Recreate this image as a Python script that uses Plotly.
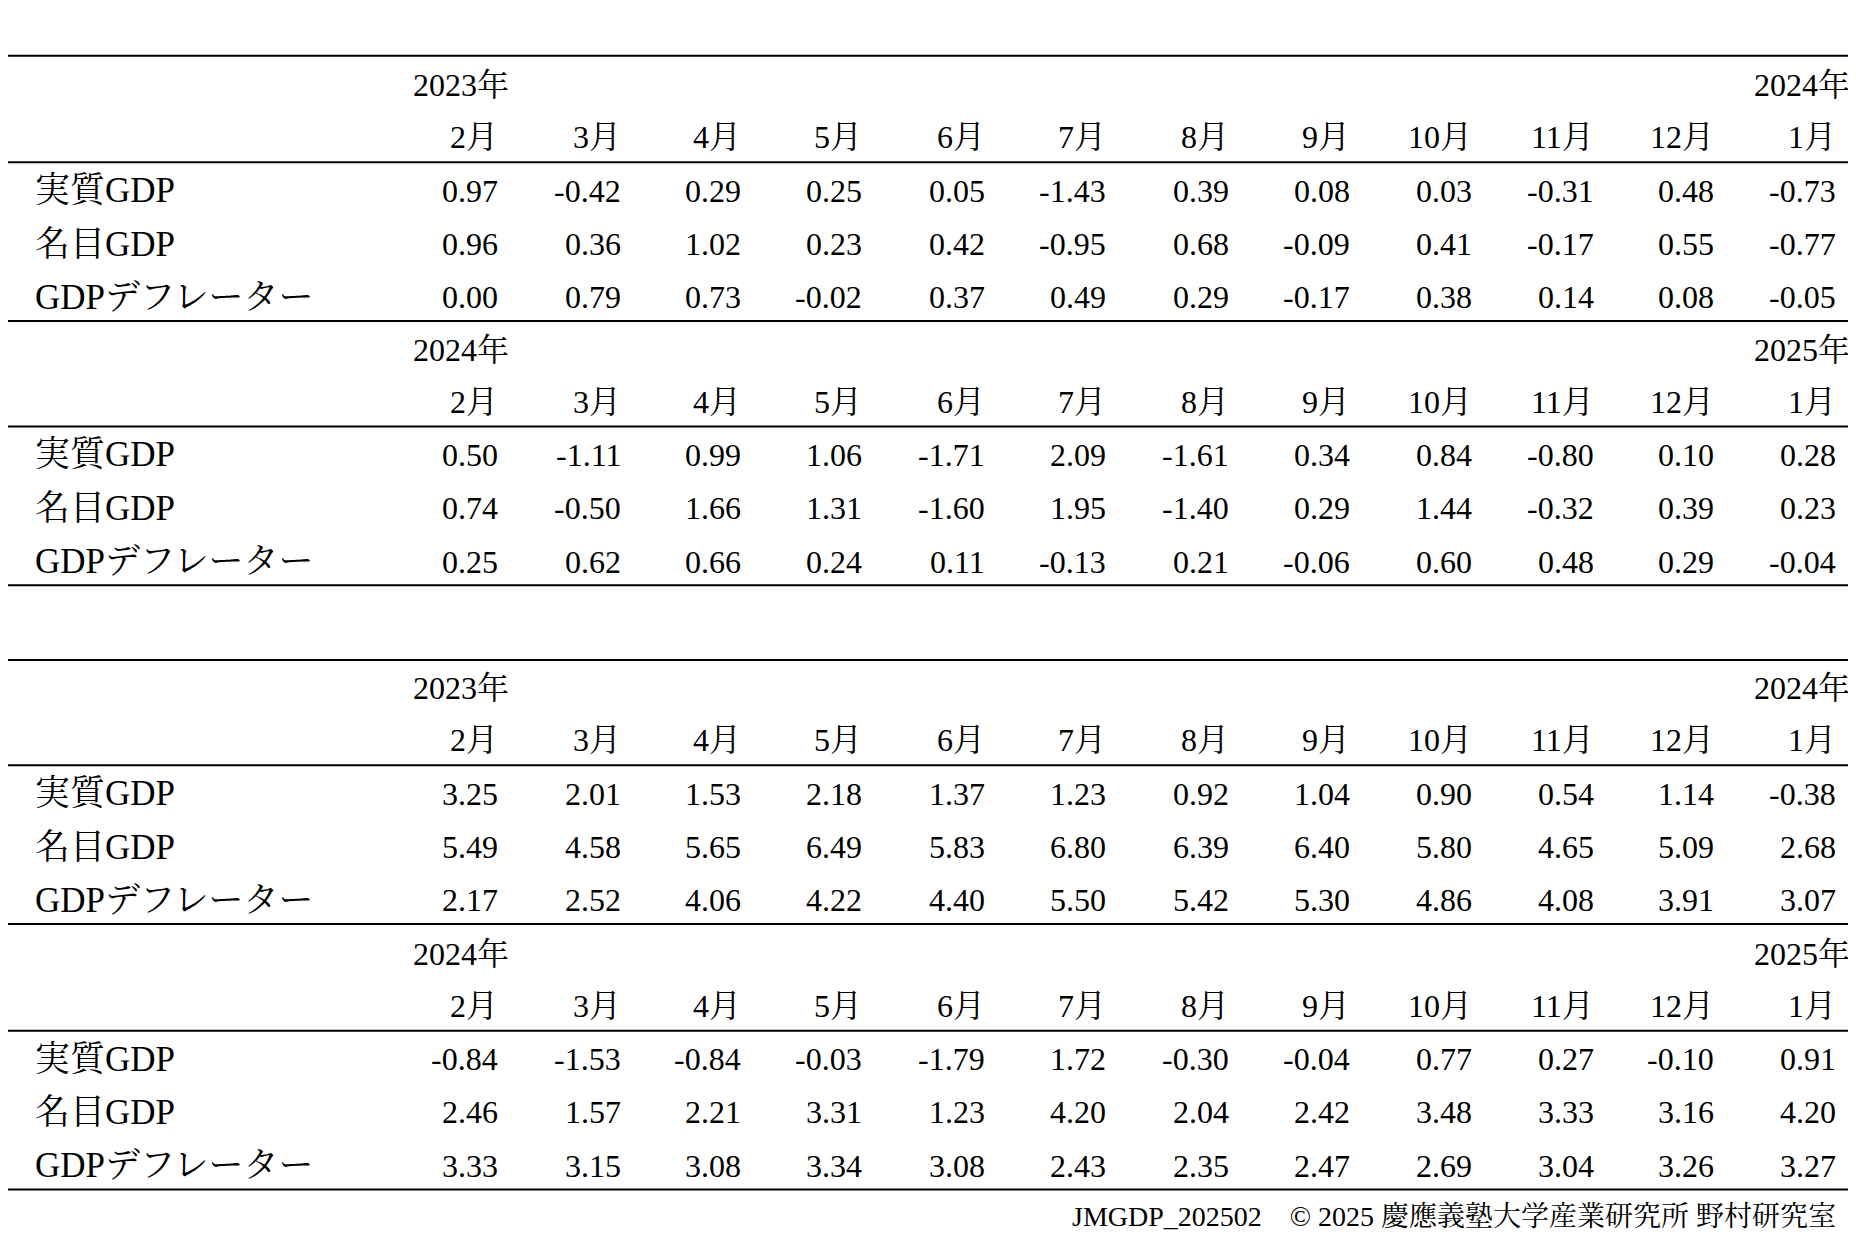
import plotly.graph_objects as go

months = ["2月","3月","4月","5月","6月","7月","8月","9月","10月","11月","12月","1月"]
row_labels = ["実質GDP","名目GDP","GDPデフレーター"]
sections = ["1.前月比","2.前年同月比"]
years_a = ["2023年","2024年"]
years_b = ["2024年","2025年"]

mom_a = [
 ["0.97","-0.42","0.29","0.25","0.05","-1.43","0.39","0.08","0.03","-0.31","0.48","-0.73"],
 ["0.96","0.36","1.02","0.23","0.42","-0.95","0.68","-0.09","0.41","-0.17","0.55","-0.77"],
 ["0.00","0.79","0.73","-0.02","0.37","0.49","0.29","-0.17","0.38","0.14","0.08","-0.05"]]
mom_b = [
 ["0.50","-1.11","0.99","1.06","-1.71","2.09","-1.61","0.34","0.84","-0.80","0.10","0.28"],
 ["0.74","-0.50","1.66","1.31","-1.60","1.95","-1.40","0.29","1.44","-0.32","0.39","0.23"],
 ["0.25","0.62","0.66","0.24","0.11","-0.13","0.21","-0.06","0.60","0.48","0.29","-0.04"]]
yoy_a = [
 ["3.25","2.01","1.53","2.18","1.37","1.23","0.92","1.04","0.90","0.54","1.14","-0.38"],
 ["5.49","4.58","5.65","6.49","5.83","6.80","6.39","6.40","5.80","4.65","5.09","2.68"],
 ["2.17","2.52","4.06","4.22","4.40","5.50","5.42","5.30","4.86","4.08","3.91","3.07"]]
yoy_b = [
 ["-0.84","-1.53","-0.84","-0.03","-1.79","1.72","-0.30","-0.04","0.77","0.27","-0.10","0.91"],
 ["2.46","1.57","2.21","3.31","1.23","4.20","2.04","2.42","3.48","3.33","3.16","4.20"],
 ["3.33","3.15","3.08","3.34","3.08","2.43","2.35","2.47","2.69","3.04","3.26","3.27"]]

FONT = "Liberation Serif, Noto Serif CJK JP, Noto Sans CJK JP, serif"
FS = 32
col_right = [422,526,628,730,834,936,1040,1142,1245,1348,1450,1553]

fig = go.Figure()
ann = []
shapes = []
def txt(x, y, s, anchor="right", size=FS):
    ann.append(dict(x=x, y=y, text=s, xref="x", yref="y", showarrow=False,
                    xanchor=anchor, yanchor="middle", font=dict(family=FONT, size=size, color="black")))
def hline(y, w=2):
    shapes.append(dict(type="line", x0=-10, x1=1580, y0=y, y1=y, xref="x", yref="y",
                       line=dict(color="black", width=w)))

def block(top, data, years):
    txt(432, top, years[0]); txt(1565, top, years[1])
    for m, xr in zip(months, col_right):
        txt(xr, top+44, m)
    hline(top+65)
    for i, (lab, row) in enumerate(zip(row_labels, data)):
        y = top+89+i*45
        txt(28, y, lab, "left", 35)
        for v, xr in zip(row, col_right):
            txt(xr, y, v)
    hline(top+199)

txt(6, 25, sections[0], "left", 34); hline(47)
block(72, mom_a, years_a)
block(295, mom_b, years_b)
txt(6, 535, sections[1], "left", 34); hline(557)
block(581, yoy_a, years_a)
block(805, yoy_b, years_b)
txt(6, 1025, "単位：%(季節調整済み)", "left", 32)
txt(1553, 1027, "JMGDP_202502　© 2025 慶應義塾大学産業研究所 野村研究室", "right", 28)

off = 8*1568/1856
fig.update_layout(width=1856, height=1244, margin=dict(l=0,r=0,t=0,b=0),
    plot_bgcolor="white", paper_bgcolor="white", annotations=ann, shapes=shapes,
    xaxis=dict(range=[off,1568+off], visible=False, fixedrange=True),
    yaxis=dict(range=[1050+off,off], visible=False, fixedrange=True), showlegend=False)
fig.write_html("out.html")
